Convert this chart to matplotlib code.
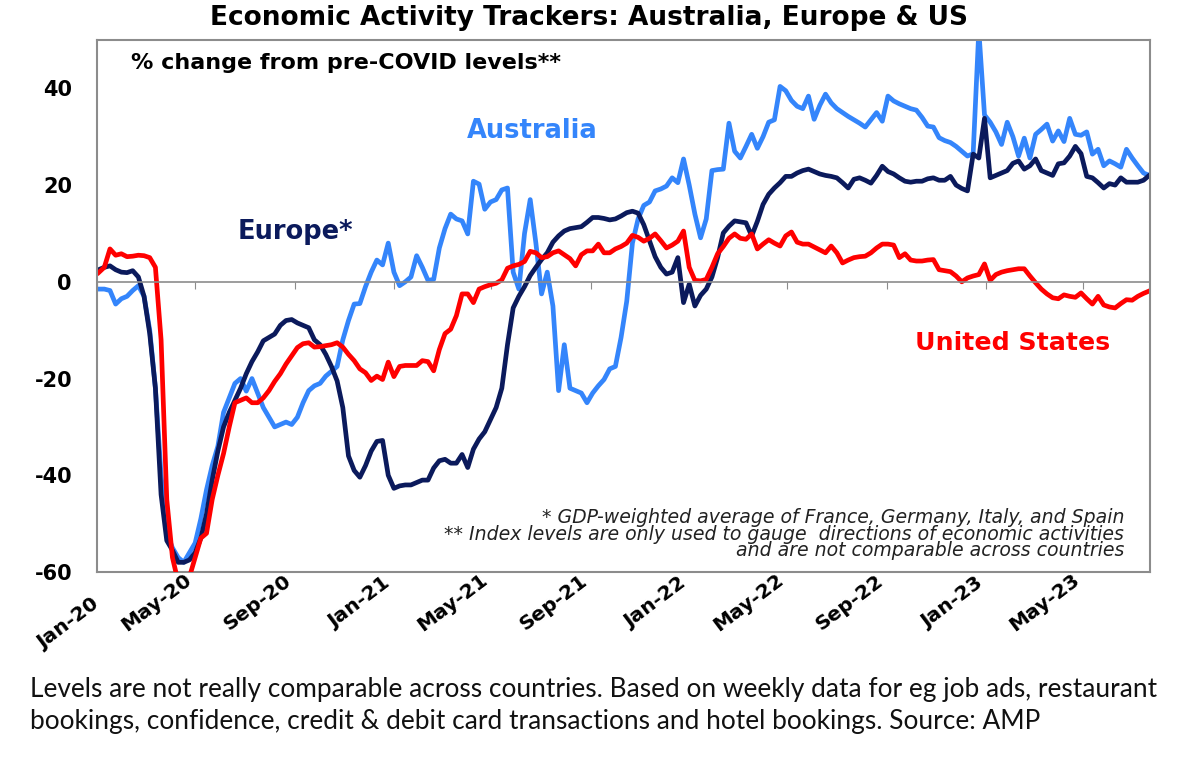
import numpy as np
import pandas as pd
import matplotlib
matplotlib.use("Agg")
import matplotlib.pyplot as plt
import matplotlib.dates as mdates

# weekly readings, % change from pre-COVID levels
weeks = pd.date_range("2020-01-03", periods=186, freq="7D")

australia = [
    -1.5, -1.5, -1.8, -4.6, -3.5, -3.0, -1.8, -0.8, -3, -10,
    -22, -40, -52, -55, -57, -58, -56, -54, -49, -43,
    -38, -34, -27, -24, -21, -20, -22.6, -20, -23, -26,
    -28, -30, -29.5, -29, -29.5, -28, -25, -22.5, -21.5, -21,
    -19.5, -18.5, -17.5, -12, -8, -4.6, -4.5, -1, 2, 4.5,
    3.5, 8.0, 2, -0.8, 0, 1, 5.4, 3, 0.3, 0.5,
    7, 11, 14, 13, 12.6, 9.9, 20.8, 20.2, 15, 16.5,
    17, 19, 19.4, 2, -1.5, 10, 17, 8, -2.5, 2,
    -5, -22.5, -13, -22, -22.5, -23, -25, -23, -21.5, -20.2,
    -18, -17.5, -11.5, -4, 8, 13, 15.8, 16.5, 18.8, 19.2,
    19.8, 21.5, 20.5, 25.4, 20, 14, 9.1, 13, 23, 23.2,
    23.3, 32.8, 27, 25.6, 28, 30.5, 27.6, 30, 33, 33.5,
    40.4, 39.5, 37.5, 36.3, 35.8, 38.4, 33.6, 36.5, 38.8, 37,
    35.8, 35, 34.2, 33.5, 32.8, 32, 33.5, 35, 33.2, 38.4,
    37.4, 36.8, 36.3, 35.8, 35.5, 34, 32.2, 32, 29.8, 29.2,
    28.8, 28, 27, 26, 26.5, 52, 34.5, 33, 31, 28.4,
    33, 30, 26, 29.7, 25.6, 30.5, 31.5, 32.6, 29.1, 31.2,
    29, 33.8, 30.5, 30.3, 31, 26.4, 27.4, 24, 25, 24.4,
    23.7, 27.4, 25.6, 24, 22.5, 22,
]

europe = [
    2.5, 3, 3.3, 2.5, 2, 1.9, 2.3, 1, -3, -10.7,
    -22, -44, -53.5, -55.5, -58, -58, -57.5, -56, -53, -48,
    -41, -35, -30, -27, -24.5, -22, -19, -16.5, -14.5, -12.2,
    -11.5, -10.8, -9, -8, -7.8, -8.5, -9, -9.5, -12, -13,
    -15, -17.5, -20.5, -26, -36, -39, -40.4, -38, -35, -33,
    -32.8, -40, -42.7, -42.2, -42, -42, -41.5, -41, -41, -38.5,
    -37, -36.7, -37.5, -37.5, -35.7, -38.4, -34.6, -32.5, -31, -28.5,
    -26, -22, -13, -5.4, -3, -1, 1.3, 3, 4.6, 6,
    8.2, 9.5, 10.5, 11, 11.2, 11.4, 12.3, 13.3, 13.3, 13.1,
    12.8, 13, 13.6, 14.3, 14.6, 14.2, 11.8, 8.5, 5.2, 3,
    1.6, 2, 5, -4.3, -0.5, -5, -2.8, -1.5, 1, 5,
    10.1, 11.5, 12.6, 12.4, 12.2, 9.5, 12.5, 16, 18.1, 19.4,
    20.5, 21.8, 21.8, 22.5, 23, 23.3, 22.8, 22.3, 22, 21.8,
    21.5, 20.5, 19.4, 21.2, 21.5, 21, 20.4, 22, 23.9, 22.8,
    22.3, 21.5, 20.8, 20.6, 20.8, 20.8, 21.3, 21.5, 21, 21,
    21.8, 20, 19.3, 18.8, 26.4, 25.6, 33.8, 21.5, 22, 22.5,
    23, 24.5, 25, 23.3, 24, 25.4, 23, 22.5, 22, 24.4,
    24.6, 26, 28, 26.5, 21.8, 21.5, 20.5, 19.4, 20.3, 20,
    21.5, 20.6, 20.6, 20.6, 21, 22,
]

us = [
    1.9, 3, 6.8, 5.5, 5.8, 5.2, 5.3, 5.5, 5.4, 5,
    3, -12, -45, -57, -62, -63, -61, -57, -53, -52,
    -45, -40, -35.5, -30, -25, -24.5, -24, -25, -25, -24,
    -22.5, -20.6, -19, -17, -15.3, -13.6, -12.8, -12.6, -13.5, -13.4,
    -13.2, -13, -12.6, -13.5, -15, -16.3, -18, -18.8, -20.4, -19.5,
    -20.2, -16.6, -19.6, -17.5, -17.3, -17.3, -17.3, -16.3, -16.5, -18.4,
    -14, -10.7, -9.8, -7, -2.5, -2.5, -4.3, -1.5, -1, -0.6,
    -0.3, 0.4, 2.8, 3.3, 3.6, 4.2, 6.3, 6, 5, 5.2,
    6, 6.4, 5.6, 4.8, 3.3, 5.6, 6.4, 6.4, 7.8, 6,
    6, 6.8, 7.3, 8, 9.6, 9.2, 8.4, 9, 9.9, 8.5,
    7, 7.6, 8.4, 10.5, 3, 0.3, 0.2, 0.5, 3, 5.8,
    7.3, 9, 9.9, 9, 8.8, 9.9, 6.8, 7.8, 8.7, 8,
    7.4, 9.5, 10.3, 8.2, 7.8, 7.8, 7.2, 6.6, 6, 7.4,
    6, 3.9, 4.5, 5, 5.2, 5.3, 6, 7, 7.8, 7.8,
    7.6, 5, 5.8, 4.5, 4.3, 4.3, 4.5, 4.6, 2.5, 2.3,
    2.1, 1.2, 0, 0.8, 1.2, 1.5, 3.7, 0.3, 1.5, 2,
    2.3, 2.5, 2.7, 2.7, 1.2, -0.2, -1.5, -2.5, -3.3, -3.5,
    -2.7, -3, -3.2, -2.3, -3.5, -4.6, -3, -4.8, -5.2, -5.4,
    -4.5, -3.7, -3.8, -3, -2.4, -1.9,
]

yticks = [-60, -40, -20, 0, 20, 40]

title = "Economic Activity Trackers: Australia, Europe & US"
subtitle = "% change from pre-COVID levels**"
footnote = ("* GDP-weighted average of France, Germany, Italy, and Spain\n"
            "** Index levels are only used to gauge  directions of economic activities\n"
            "and are not comparable across countries")
caption = ("Levels are not really comparable across countries. Based on weekly data for eg job ads, restaurant\n"
           "bookings, confidence, credit & debit card transactions and hotel bookings. Source: AMP")

c_aus = "#3485fb"
c_eur = "#0b1a5c"
c_us = "#ff0000"
grey = "#8c8c8c"

plt.rcParams["font.family"] = ["DejaVu Sans"]
plt.rcParams["axes.unicode_minus"] = False

W, H = 1179, 758
fig = plt.figure(figsize=(W / 100, H / 100), dpi=100)

def fx(px):
    return px / W

def fy(py):
    return 1 - py / H

ax = fig.add_axes([fx(97), fy(572), fx(1150) - fx(97), fy(40) - fy(572)])

ax.plot(weeks, australia, color=c_aus, lw=3.4, solid_joinstyle="round")
ax.plot(weeks, europe, color=c_eur, lw=3.4, solid_joinstyle="round")
ax.plot(weeks, us, color=c_us, lw=3.4, solid_joinstyle="round")

ax.set_ylim(-60, 50)
ax.set_xlim(pd.Timestamp("2020-01-01"), pd.Timestamp("2023-07-22"))
ax.set_yticks(yticks)
ax.tick_params(axis="y", length=0, pad=18, labelsize=15)
for lab in ax.get_yticklabels():
    lab.set_fontweight("bold")

# x axis line crosses at zero, labels stay at the bottom
ax.spines["bottom"].set_position(("data", 0))
ax.spines["bottom"].set_color(grey)
ax.spines["bottom"].set_linewidth(1.2)
ax.xaxis.set_major_locator(mdates.MonthLocator(bymonth=[1, 5, 9]))
ax.tick_params(axis="x", direction="out", length=5, color=grey, labelbottom=False)
for s in ["top", "left", "right"]:
    ax.spines[s].set_color(grey)
    ax.spines[s].set_linewidth(1.5)

sec = ax.secondary_xaxis(0.0)
sec.xaxis.set_major_locator(mdates.MonthLocator(bymonth=[1, 5, 9]))
sec.xaxis.set_major_formatter(mdates.DateFormatter("%b-%y"))
sec.tick_params(length=0, pad=22, labelsize=14.5)
sec.spines["bottom"].set_color(grey)
sec.spines["bottom"].set_linewidth(1.5)
for lab in sec.get_xticklabels():
    lab.set_rotation(37)
    lab.set_ha("right")
    lab.set_va("center")
    lab.set_rotation_mode("anchor")
    lab.set_fontweight("bold")

fig.text(0.5, fy(18), title, ha="center", va="center", fontsize=19, fontweight="bold")
fig.text(fx(131), fy(63), subtitle, ha="left", va="center", fontsize=16, fontweight="bold")
fig.text(fx(467), fy(131), "Australia", ha="left", va="center", fontsize=18.5, fontweight="bold", color=c_aus)
fig.text(fx(238), fy(232), "Europe*", ha="left", va="center", fontsize=18.5, fontweight="bold", color=c_eur)
fig.text(fx(915), fy(343), "United States", ha="left", va="center", fontsize=18.2, fontweight="bold", color=c_us)
fig.text(fx(1124), fy(534), footnote, ha="right", va="center", fontsize=13.6, style="italic",
         color="#222222", linespacing=0.84)
fig.text(fx(30), fy(705), caption, ha="left", va="center", fontsize=18.9, family=["Lato", "DejaVu Sans"],
         color="#111111", linespacing=1.35)

fig.savefig("out.png", dpi=100)
